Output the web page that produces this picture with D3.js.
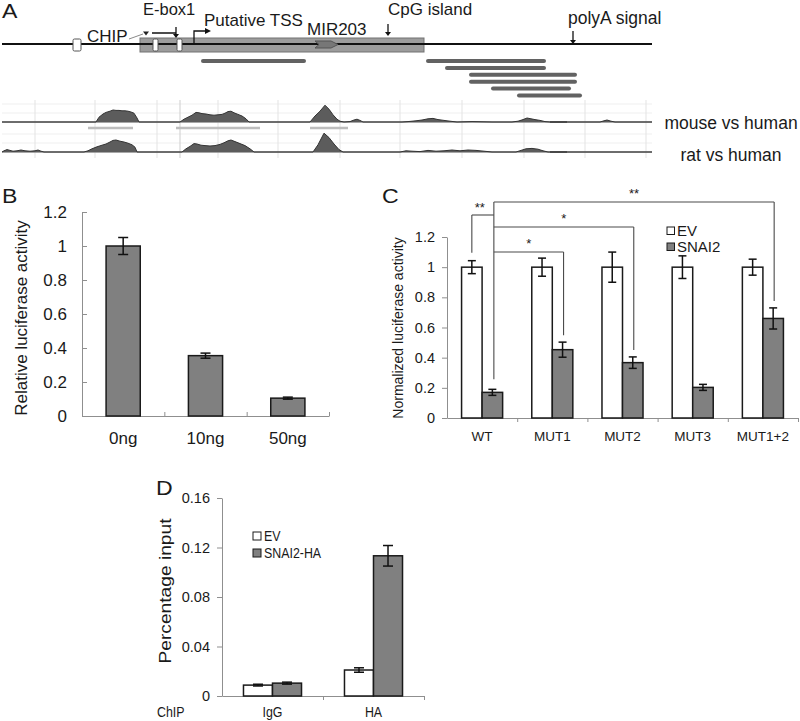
<!DOCTYPE html>
<html><head><meta charset="utf-8">
<script src="https://cdn.jsdelivr.net/npm/d3@7"></script>
<style>body{margin:0;background:#fff;} svg{display:block;font-family:"Liberation Sans",Arial,sans-serif;}</style>
</head><body><svg id="fig" width="800" height="721"></svg>
<script>
// ---------------- Panel A data (genomic schematic, arbitrary units) ----------------
const aExtent = [0, 650];
const aBlock = [138, 422];
const aMarkers = [[71, 79], [151, 156], [175, 180]];
const aEbox = [150, 174];
const aChipSite = 144;
const aTSS = 192;
const aMir = [313, 336];
const aCpG = 386;
const aPolyA = 571;
const aAmplicons = [[201, 302], [426, 542], [445, 542], [469, 573], [469, 573], [491, 567], [517, 578]];
const aConsBlocks = [[86, 131], [174, 258], [308, 346]];
const aGrid = [33, 93, 155, 216, 276, 338, 398, 460, 522, 583, 644];
const aHighlight = 178;
const aGap = [548, 565];
const aTrackNames = ["mouse vs human", "rat vs human"];
const aLabels = ["CHIP", "E-box1", "Putative TSS", "MIR203", "CpG island", "polyA signal"];
const mouseProfile = [[0,50],[94,50],[97,62],[101,70],[104,74],[108,77],[111,80],[114,79],[117,79],[120,78],[123,78],[126,77],[129,75],[132,72],[135,60],[137,50],[178,50],[182,57],[186,62],[190,67],[194,74],[197,73],[200,71],[204,70],[208,68],[212,67],[216,68],[220,69],[223,72],[226,76],[229,77],[232,73],[236,69],[240,65],[244,58],[247,50],[308,50],[313,65],[318,77],[323,92],[327,82],[331,68],[335,57],[338,52],[342,50],[348,51],[352,55],[355,57],[358,54],[361,50],[400,50],[406,51],[414,53],[420,55],[426,58],[431,59],[436,56],[442,54],[448,52],[455,50],[470,51],[490,50],[510,50],[516,52],[521,56],[525,60],[529,58],[533,56],[538,54],[543,51],[548,50],[598,50],[602,53],[605,55],[609,52],[613,50],[650,50]];
const ratProfile = [[0,50],[2,53],[5,56],[8,54],[11,52],[15,53],[19,55],[23,53],[28,52],[33,53],[36,55],[39,52],[42,50],[82,50],[86,53],[90,58],[95,63],[100,67],[104,70],[108,75],[111,79],[114,80],[118,77],[122,75],[126,72],[130,68],[133,62],[135,50],[180,50],[184,58],[188,64],[192,71],[195,70],[199,67],[203,66],[208,65],[213,66],[218,69],[222,73],[226,78],[229,80],[233,76],[238,71],[243,66],[248,58],[252,50],[311,50],[316,68],[322,97],[327,86],[332,70],[337,56],[341,50],[398,50],[404,53],[410,52],[418,51],[426,54],[434,52],[442,53],[450,55],[458,53],[466,55],[474,54],[482,52],[490,50],[514,50],[519,54],[524,58],[530,59],[536,57],[541,53],[546,50],[650,50]];

// ---------------- Panel B data ----------------
const bCats = ["0ng", "10ng", "50ng"];
const bVals = [1.0, 0.355, 0.105];
const bErr = [0.05, 0.015, 0.006];
const bTicks = [0, 0.2, 0.4, 0.6, 0.8, 1, 1.2];
const bYLabel = "Relative luciferase activity";

// ---------------- Panel C data ----------------
const cCats = ["WT", "MUT1", "MUT2", "MUT3", "MUT1+2"];
const cSeries = ["EV", "SNAI2"];
const cEV = [1, 1, 1, 1, 1];
const cEVErr = [0.043, 0.06, 0.1, 0.075, 0.053];
const cSNAI2 = [0.17, 0.453, 0.367, 0.203, 0.66];
const cSNAI2Err = [0.02, 0.05, 0.038, 0.02, 0.07];
const cTicks = [0, 0.2, 0.4, 0.6, 0.8, 1, 1.2];
const cCompare = [["MUT1", "*"], ["MUT2", "*"], ["MUT1+2", "**"]];
const cWTStar = "**";
const cYLabel = "Normalized luciferase activity";

// ---------------- Panel D data ----------------
const dCats = ["IgG", "HA"];
const dSeries = ["EV", "SNAI2-HA"];
const dEV = [0.0088, 0.021];
const dEVErr = [0.0007, 0.0018];
const dSNAI2 = [0.0104, 0.1133];
const dSNAI2Err = [0.0008, 0.0083];
const dTicks = [0, 0.04, 0.08, 0.12, 0.16];
const dYLabel = "Percentage input";
const dXTitle = "ChIP";

const svg = d3.select("#fig");
const INK = "#1a1a1a", AX = "#8f8f8f", GRAYBAR = "#808080";

function label(g, x, y, s, size, anchor, sx) {
  const t = g.append("text").attr("transform", `translate(${x},${y})` + (sx ? ` scale(${sx},1)` : ""))
    .attr("font-size", size).attr("fill", INK).attr("text-anchor", anchor || "start").text(s);
  return t;
}

// ===== Panel letters =====
[["A", 2, 18], ["B", 2, 203], ["C", 382, 203], ["D", 156, 495]].forEach(([s, x, y]) => {
  svg.append("text").attr("x", x).attr("y", y).attr("font-size", 21).attr("fill", INK)
    .attr("transform", `translate(${x},0) scale(1.1,1) translate(${-x},0)`).text(s);
});

// ===== Panel A =====
const gA = svg.append("g");
const xA = d3.scaleLinear().domain(aExtent).range([2, 652]);
const yMouse = d3.scaleLinear().domain([50, 100]).range([122, 102]);
const yRat = d3.scaleLinear().domain([50, 100]).range([152, 132]);

// conservation grid
[104, 113, 134, 143].forEach(y => gA.append("line").attr("x1", xA(aExtent[0])).attr("x2", xA(aExtent[1]))
  .attr("y1", y).attr("y2", y).attr("stroke", "#efefef"));
gA.selectAll(".vg").data(aGrid).join("line").attr("x1", d => xA(d)).attr("x2", d => xA(d))
  .attr("y1", 100).attr("y2", 158).attr("stroke", "#e3e3e3");
gA.append("line").attr("x1", xA(aHighlight)).attr("x2", xA(aHighlight)).attr("y1", 100).attr("y2", 158).attr("stroke", "#cdcdcd");

// gray block
gA.append("rect").attr("x", xA(aBlock[0])).attr("y", 38).attr("width", xA(aBlock[1]) - xA(aBlock[0]))
  .attr("height", 14).attr("fill", "#9c9c9c").attr("stroke", "#727272");
// main line
gA.append("line").attr("x1", xA(aExtent[0])).attr("x2", xA(aExtent[1])).attr("y1", 44).attr("y2", 44)
  .attr("stroke", "#111").attr("stroke-width", 2);
// white markers
gA.selectAll(".mk").data(aMarkers).join("rect").attr("x", d => xA(d[0])).attr("y", 39)
  .attr("width", d => xA(d[1]) - xA(d[0])).attr("height", 12).attr("rx", 1.5)
  .attr("fill", "#fff").attr("stroke", "#555");
// MIR203 arrow shape
{
  const x0 = xA(aMir[0]), x1 = xA(aMir[1]);
  gA.append("path").attr("d", `M${x0},41 L${x1 - 7},41 L${x1},44.5 L${x1 - 7},48 L${x0},48 L${x0 + 4},44.5 Z`)
    .attr("fill", "#777").attr("stroke", "#555");
}
// CHIP label + connector
label(gA, 87, 42, aLabels[0], 17);
gA.append("line").attr("x1", 129).attr("y1", 39).attr("x2", xA(aChipSite) - 3).attr("y2", 34).attr("stroke", "#8a8a8a");
{
  const x = xA(aChipSite);
  gA.append("path").attr("d", `M${x - 3},31.5 L${x + 3},31.5 L${x},35.5 Z`).attr("fill", "#222");
}
// E-box1
label(gA, 143, 15, aLabels[1], 16.5);
gA.append("line").attr("x1", xA(aEbox[0])).attr("x2", xA(aEbox[1])).attr("y1", 33).attr("y2", 33)
  .attr("stroke", "#111").attr("stroke-width", 1.5);
function downArrow(x, y1, y2) {
  gA.append("line").attr("x1", x).attr("x2", x).attr("y1", y1).attr("y2", y2 - 3).attr("stroke", "#111").attr("stroke-width", 1.3);
  gA.append("path").attr("d", `M${x - 3},${y2 - 4} L${x + 3},${y2 - 4} L${x},${y2} Z`).attr("fill", "#111");
}
downArrow(xA(aEbox[1]), 27, 38);
// TSS
{
  const x = xA(aTSS);
  gA.append("path").attr("d", `M${x},44 V31 H${x + 12}`).attr("fill", "none").attr("stroke", "#111").attr("stroke-width", 1.3);
  gA.append("path").attr("d", `M${x + 11},28 L${x + 11},34 L${x + 17},31 Z`).attr("fill", "#111");
}
label(gA, 204, 26, aLabels[2], 17);
label(gA, 307, 35, aLabels[3], 17);
label(gA, 388, 15, aLabels[4], 17);
downArrow(xA(aCpG), 24, 36);
label(gA, 568, 24, aLabels[5], 17.5);
downArrow(xA(aPolyA), 31, 44);

// amplicon bars (greedy row packing)
const rowsEnd = [];
const ampRows = aAmplicons.map(([s, e]) => {
  let r = rowsEnd.findIndex(end => end < s);
  if (r < 0) { r = rowsEnd.length; rowsEnd.push(e); } else rowsEnd[r] = e;
  return r;
});
gA.selectAll(".amp").data(aAmplicons).join("line")
  .attr("x1", d => xA(d[0])).attr("x2", d => xA(d[1]))
  .attr("y1", (d, i) => 61 + ampRows[i] * 6.9).attr("y2", (d, i) => 61 + ampRows[i] * 6.9)
  .attr("stroke", "#626262").attr("stroke-width", 4).attr("stroke-linecap", "round");

// conservation tracks
[[mouseProfile, yMouse], [ratProfile, yRat]].forEach(([prof, ys]) => {
  gA.append("line").attr("x1", xA(aExtent[0])).attr("x2", xA(aExtent[1])).attr("y1", ys(50)).attr("y2", ys(50))
    .attr("stroke", "#8a8a8a").attr("stroke-width", 1.6);
  gA.append("path").datum(prof).attr("d", d3.area().x(d => xA(d[0])).y0(ys(50)).y1(d => ys(d[1])))
    .attr("fill", "#5c5c5c");
  gA.append("path").datum(prof).attr("d", d3.line().x(d => xA(d[0])).y(d => ys(d[1])))
    .attr("fill", "none").attr("stroke", "#333").attr("stroke-width", 1);
  gA.append("line").attr("x1", xA(aGap[0])).attr("x2", xA(aGap[1])).attr("y1", ys(50)).attr("y2", ys(50))
    .attr("stroke", "#444").attr("stroke-width", 1.8);
});
gA.selectAll(".cb").data(aConsBlocks).join("line")
  .attr("x1", d => xA(d[0])).attr("x2", d => xA(d[1])).attr("y1", 128).attr("y2", 128)
  .attr("stroke", "#bdbdbd").attr("stroke-width", 2.5);
label(gA, 731, 129, aTrackNames[0], 17.5, "middle");
label(gA, 731, 161, aTrackNames[1], 17.5, "middle");

// ===== helper for bar panels =====
function styleAxis(g, size) {
  g.select(".domain").attr("stroke", AX);
  g.selectAll(".tick line").attr("stroke", AX);
  g.selectAll(".tick text").attr("fill", INK).attr("font-size", size).attr("font-family", null);
}
function errBars(g, xs, ys, vals, errs, cap) {
  vals.forEach((v, i) => {
    const x = xs[i], e = errs[i];
    g.append("line").attr("x1", x).attr("x2", x).attr("y1", ys(v - e)).attr("y2", ys(v + e)).attr("stroke", "#111").attr("stroke-width", 1.5);
    [v - e, v + e].forEach(w => g.append("line").attr("x1", x - cap).attr("x2", x + cap).attr("y1", ys(w)).attr("y2", ys(w))
      .attr("stroke", "#111").attr("stroke-width", 1.5));
  });
}

// ===== Panel B =====
const gB = svg.append("g");
const yB = d3.scaleLinear().domain([0, 1.2]).range([416, 212]);
const xB = d3.scaleBand().domain(bCats).range([82, 329]).paddingInner(0.585).paddingOuter(0.2925);
const xBt = d3.scaleLinear().domain([0, bCats.length]).range([82, 329]);
gB.append("g").attr("transform", "translate(82,0)")
  .call(d3.axisLeft(yB).tickValues(bTicks).tickFormat(d3.format("~g")).tickSizeInner(-5).tickSizeOuter(0).tickPadding(15))
  .call(g => styleAxis(g, 17));
gB.append("g").attr("transform", "translate(0,416)")
  .call(d3.axisBottom(xBt).tickValues([1, 2, 3]).tickFormat("").tickSizeInner(-4).tickSizeOuter(0))
  .call(g => styleAxis(g, 17));
gB.selectAll(".bar").data(bVals).join("rect")
  .attr("x", (d, i) => xB(bCats[i])).attr("width", xB.bandwidth())
  .attr("y", d => yB(d)).attr("height", d => yB(0) - yB(d))
  .attr("fill", GRAYBAR).attr("stroke", INK).attr("stroke-width", 1.5);
errBars(gB, bCats.map(c => xB(c) + xB.bandwidth() / 2), yB, bVals, bErr, 5);
bCats.forEach(c => label(gB, xB(c) + xB.bandwidth() / 2, 444, c, 17, "middle"));
svg.append("text").attr("transform", "translate(21,318) rotate(-90)").attr("text-anchor", "middle")
  .attr("dominant-baseline", "central").attr("font-size", 17).attr("fill", INK).text(bYLabel);

// ===== Panel C =====
const gC = svg.append("g");
const yC = d3.scaleLinear().domain([0, 1.2]).range([418, 237]);
const xC = d3.scaleBand().domain(cCats).range([447, 798]);
const xCs = d3.scaleBand().domain(cSeries).range([0, xC.bandwidth()]).paddingInner(0).paddingOuter(0.71);
const xCt = d3.scaleLinear().domain([0, cCats.length]).range([447, 798]);
gC.append("g").attr("transform", "translate(447,0)")
  .call(d3.axisLeft(yC).tickValues(cTicks).tickFormat(d3.format("~g")).tickSizeInner(5).tickSizeOuter(0).tickPadding(7))
  .call(g => styleAxis(g, 14.5));
gC.append("g").attr("transform", "translate(0,418)")
  .call(d3.axisBottom(xCt).tickValues([1, 2, 3, 4, 5]).tickFormat("").tickSizeInner(4).tickSizeOuter(0))
  .call(g => styleAxis(g, 14));
const cData = [cEV, cSNAI2], cErrs = [cEVErr, cSNAI2Err], cFill = ["#fff", GRAYBAR];
cSeries.forEach((s, k) => {
  gC.selectAll(".b" + k).data(cData[k]).join("rect")
    .attr("x", (d, i) => xC(cCats[i]) + xCs(s)).attr("width", xCs.bandwidth())
    .attr("y", d => yC(d)).attr("height", d => yC(0) - yC(d))
    .attr("fill", cFill[k]).attr("stroke", INK).attr("stroke-width", 1.5);
});
cSeries.forEach((s, k) => errBars(gC, cCats.map(c => xC(c) + xCs(s) + xCs.bandwidth() / 2), yC, cData[k], cErrs[k], 4));
cCats.forEach(c => label(gC, xC(c) + xC.bandwidth() / 2, 441, c, 13.5, "middle"));
svg.append("text").attr("transform", "translate(398,328) rotate(-90)").attr("text-anchor", "middle")
  .attr("dominant-baseline", "central").attr("font-size", 14).attr("fill", INK).text(cYLabel);
// legend
cSeries.forEach((s, k) => {
  gC.append("rect").attr("x", 667).attr("y", 227 + k * 16).attr("width", 7.5).attr("height", 7.5)
    .attr("fill", cFill[k]).attr("stroke", INK).attr("stroke-width", 1);
  label(gC, 677, 236 + k * 16, s, 15);
});
// significance brackets
{
  const cx = (c, s) => xC(c) + xCs(s) + xCs.bandwidth() / 2;
  const hub = cx("WT", "SNAI2") + 1.5;
  const B = "#4a4a4a";
  const ln = (x1, y1, x2, y2) => gC.append("line").attr("x1", x1).attr("y1", y1).attr("x2", x2).attr("y2", y2)
    .attr("stroke", B).attr("stroke-width", 1.1);
  const levels = [252, 227, 202];
  const starY = [248, 223, 198];
  const wtTop = yC(cSNAI2[0] + cSNAI2Err[0]) - 10;
  ln(hub, levels[2], hub, wtTop);
  cCompare.forEach(([c, star], j) => {
    const i = cCats.indexOf(c);
    const x = cx(c, "SNAI2") + 1;
    const bottom = yC(cSNAI2[i] + cSNAI2Err[i]) - 7;
    ln(hub, levels[j], x, levels[j]);
    ln(x, levels[j], x, bottom);
    gC.append("text").attr("x", (hub + x) / 2).attr("y", starY[j]).attr("text-anchor", "middle")
      .attr("font-size", 13).attr("fill", INK).text(star);
  });
  // WT EV vs SNAI2
  const xe = cx("WT", "EV");
  ln(xe, yC(cEV[0] + cEVErr[0]) - 8, xe, 215);
  ln(xe, 215, hub, 215);
  gC.append("text").attr("x", (xe + hub) / 2 - 3).attr("y", 212).attr("text-anchor", "middle")
    .attr("font-size", 13).attr("fill", INK).text(cWTStar);
}

// ===== Panel D =====
const gD = svg.append("g");
const yD = d3.scaleLinear().domain([0, 0.16]).range([696, 498]);
const xD = d3.scaleBand().domain(dCats).range([222, 424]);
const xDs = d3.scaleBand().domain(dSeries).range([0, xD.bandwidth()]).paddingInner(0).paddingOuter(0.74);
const xDt = d3.scaleLinear().domain([0, dCats.length]).range([222, 424]);
gD.append("g").attr("transform", "translate(222,0)")
  .call(d3.axisLeft(yD).tickValues(dTicks).tickFormat(d3.format("~g")).tickSizeInner(5).tickSizeOuter(0).tickPadding(7))
  .call(g => styleAxis(g, 14.5));
gD.append("g").attr("transform", "translate(0,696)")
  .call(d3.axisBottom(xDt).tickValues([1, 2]).tickFormat("").tickSizeInner(4).tickSizeOuter(0))
  .call(g => styleAxis(g, 14));
const dData = [dEV, dSNAI2], dErrs = [dEVErr, dSNAI2Err], dFill = ["#fff", GRAYBAR];
dSeries.forEach((s, k) => {
  gD.selectAll(".b" + k).data(dData[k]).join("rect")
    .attr("x", (d, i) => xD(dCats[i]) + xDs(s)).attr("width", xDs.bandwidth())
    .attr("y", d => yD(d)).attr("height", d => yD(0) - yD(d))
    .attr("fill", dFill[k]).attr("stroke", INK).attr("stroke-width", 1.5);
});
dSeries.forEach((s, k) => errBars(gD, dCats.map(c => xD(c) + xDs(s) + xDs.bandwidth() / 2), yD, dData[k], dErrs[k], 5));
dCats.forEach(c => label(gD, xD(c) + xD.bandwidth() / 2, 717, c, 15.5, "middle", 0.8));
label(gD, 157, 717, dXTitle, 15.5, "start", 0.8);
svg.append("text").attr("transform", "translate(166,591) rotate(-90) scale(1.2,1)").attr("text-anchor", "middle")
  .attr("dominant-baseline", "central").attr("font-size", 16).attr("fill", INK).text(dYLabel);
dSeries.forEach((s, k) => {
  gD.append("rect").attr("x", 253).attr("y", 532 + k * 17).attr("width", 8).attr("height", 8)
    .attr("fill", dFill[k]).attr("stroke", INK).attr("stroke-width", 1);
  label(gD, 264, 541 + k * 17, s, 15.5, "start", 0.8);
});
</script></body></html>
